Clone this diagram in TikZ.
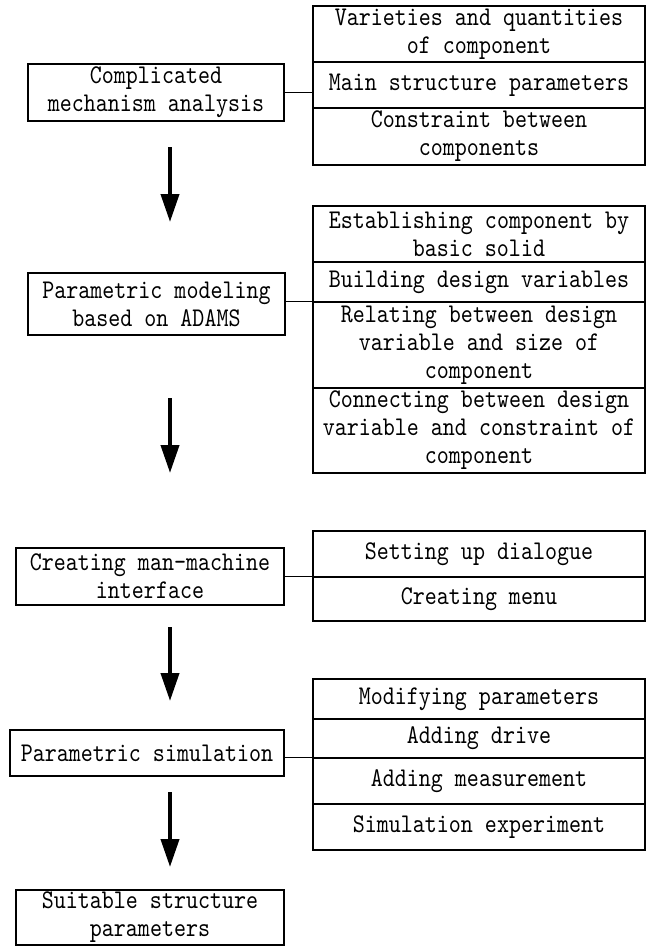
\documentclass[tikz,border=0pt]{standalone}
\usepackage{fontspec}
\newfontfamily\simfont{lmmono10-regular.otf}[FakeStretch=0.847]
\usetikzlibrary{arrows.meta}
\newcommand\bx[6]{\node[box, minimum width={(#4-#2)*0.75pt}, minimum height={(#5-#3)*0.75pt}] (#1) at ({(#2+#4)/2},{(#3+#5)/2}) {#6};}
\begin{document}
\begin{tikzpicture}[x=0.75pt,y=-0.75pt,
  box/.style={draw, line width=1.1pt, inner sep=0pt, align=center,
    font=\simfont\fontsize{20.25pt}{21pt}\selectfont},
  conn/.style={line width=0.9pt},
  flow/.style={line width=3pt, -{Triangle[length=21pt,width=13.5pt]}}]
\useasboundingbox (0,0) rectangle (649,946);
% left boxes
\bx{L1}{28}{64}{284}{121}{Complicated\\mechanism analysis}
\bx{L2}{28}{273}{285}{335}{Parametric modeling\\based on ADAMS}
\bx{L3}{16}{548}{284}{605}{Creating man-machine\\interface}
\bx{L4}{10}{730}{284}{776}{Parametric simulation}
\bx{L5}{16}{890}{284}{945}{Suitable structure\\parameters}
% group 1
\bx{G1a}{313}{6}{645}{62}{Varieties and quantities\\of component}
\bx{G1b}{313}{62}{645}{108}{Main structure parameters}
\bx{G1c}{313}{108}{645}{165}{Constraint between\\components}
% group 2
\bx{G2a}{313}{206}{645}{262}{Establishing component by\\basic solid}
\bx{G2b}{313}{262}{645}{302}{Building design variables}
\bx{G2c}{313}{302}{645}{388}{Relating between design\\variable and size of\\component}
\bx{G2d}{313}{388}{645}{473}{Connecting between design\\variable and constraint of\\component}
% group 3
\bx{G3a}{313}{531}{645}{577}{Setting up dialogue}
\bx{G3b}{313}{577}{645}{621}{Creating menu}
% group 4
\bx{G4a}{313}{679}{645}{719}{Modifying parameters}
\bx{G4b}{313}{719}{645}{758}{Adding drive}
\bx{G4c}{313}{758}{645}{804}{Adding measurement}
\bx{G4d}{313}{804}{645}{850}{Simulation experiment}
% connectors
\draw[conn] (L1.east) -- (L1.east -| G1b.west);
\draw[conn] (L2.east |- G2c.north west) -- (G2c.north west);
\draw[conn] (L3.east |- G3b.north west) -- (G3b.north west);
\draw[conn] (L4.east |- G4c.north west) -- (G4c.north west);
% flow arrows
\coordinate (a1s) at (170,147); \coordinate (a1e) at (170,222);
\coordinate (a2s) at (170,398); \coordinate (a2e) at (170,473);
\coordinate (a3s) at (170,627); \coordinate (a3e) at (170,701);
\coordinate (a4s) at (170,792); \coordinate (a4e) at (170,867);
\draw[flow] (a1s) -- (a1e);
\draw[flow] (a2s) -- (a2e);
\draw[flow] (a3s) -- (a3e);
\draw[flow] (a4s) -- (a4e);
\end{tikzpicture}
\end{document}
